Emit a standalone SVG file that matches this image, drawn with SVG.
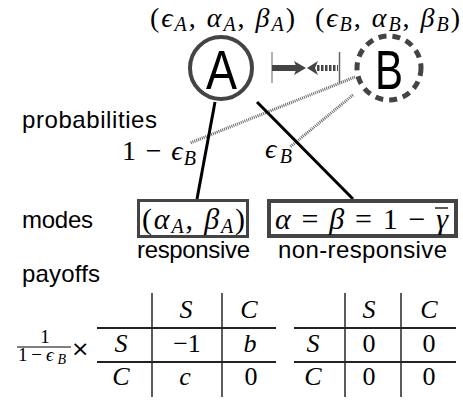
<svg xmlns="http://www.w3.org/2000/svg" width="463" height="401" viewBox="0 0 463 401">
<style>
.sf{font-family:"Liberation Sans","DejaVu Sans",sans-serif;font-size:24px;fill:#000}
.big{font-family:"Liberation Sans","DejaVu Sans",sans-serif;font-size:56px;fill:#000}
.m{font-family:"Liberation Serif","DejaVu Serif",serif;font-size:28px;fill:#000}
.mb{font-family:"Liberation Serif","DejaVu Serif",serif;font-size:30px;fill:#000}
.i{font-style:italic}
.s{font-size:20px;font-style:italic}
.tl{stroke:#333;stroke-width:1.6}
.th{stroke:#222;stroke-width:1.8}
.tm{font-family:"Liberation Serif","DejaVu Serif",serif;font-size:26px;fill:#000;text-anchor:middle}
.fr{font-family:"Liberation Serif","DejaVu Serif",serif;font-size:19px;fill:#000}
.x{font-family:"DejaVu Sans","Liberation Sans",sans-serif;font-size:22px;fill:#000}
</style>
<rect width="463" height="401" fill="#fff"/>

<!-- top parameter labels -->
<text class="m" x="150" y="27" textLength="145">(<tspan class="i">ϵ</tspan><tspan class="s" dy="4">A</tspan><tspan dy="-4">,</tspan> <tspan class="i">α</tspan><tspan class="s" dy="4">A</tspan><tspan dy="-4">,</tspan> <tspan class="i">β</tspan><tspan class="s" dy="4">A</tspan><tspan dy="-4">)</tspan></text>
<text class="m" x="315" y="27" textLength="145">(<tspan class="i">ϵ</tspan><tspan class="s" dy="4">B</tspan><tspan dy="-4">,</tspan> <tspan class="i">α</tspan><tspan class="s" dy="4">B</tspan><tspan dy="-4">,</tspan> <tspan class="i">β</tspan><tspan class="s" dy="4">B</tspan><tspan dy="-4">)</tspan></text>

<!-- connectors -->
<g id="connectors">
  <line x1="355" y1="77" x2="190" y2="143" stroke="#666" stroke-width="3" stroke-dasharray="1 1"/>
  <line x1="353" y1="95" x2="290" y2="147" stroke="#666" stroke-width="3" stroke-dasharray="1 1"/>
  <line x1="215" y1="102" x2="197" y2="199" stroke="#000" stroke-width="3"/>
  <line x1="257" y1="102" x2="353" y2="199" stroke="#000" stroke-width="3"/>
  <!-- interaction arrows -->
  <line x1="272" y1="52" x2="272" y2="83" stroke="#999" stroke-width="1.5"/>
  <rect x="272" y="65" width="25" height="6" fill="#444"/>
  <polygon points="294,61 306,68 294,75 297,68" fill="#444"/>
  <line x1="339.5" y1="52" x2="339.5" y2="83" stroke="#666" stroke-width="1.5"/>
  <line x1="317" y1="68" x2="338" y2="68" stroke="#444" stroke-width="6" stroke-dasharray="2.5 1.5"/>
  <polygon points="307,68 318,61 315,68 318,75" fill="#444"/>
</g>

<g id="nodeA">
  <circle cx="221" cy="68" r="31" fill="none" stroke="#444" stroke-width="4"/>
  <text class="big" x="206" y="89" textLength="31" lengthAdjust="spacingAndGlyphs">A</text>
</g>
<g id="nodeB">
  <circle cx="389" cy="68" r="32" fill="none" stroke="#444" stroke-width="5" stroke-dasharray="8 6"/>
  <text class="big" x="375" y="89" textLength="28" lengthAdjust="spacingAndGlyphs">B</text>
</g>

<!-- row labels -->
<text class="sf" x="22" y="128" textLength="135">probabilities</text>
<text class="sf" x="22" y="228" textLength="71">modes</text>
<text class="sf" x="22" y="282" textLength="78">payoffs</text>

<!-- probability labels -->
<text class="m" x="122" y="160" textLength="74">1 − <tspan class="i">ϵ</tspan><tspan class="s" dy="5">B</tspan></text>
<text class="m" x="265" y="158" textLength="27"><tspan class="i">ϵ</tspan><tspan class="s" dy="5">B</tspan></text>

<g id="modeResponsive">
  <rect x="138.5" y="200.5" width="109" height="36" fill="#fff" stroke="#444" stroke-width="3"/>
  <text class="mb" x="142" y="229" textLength="103">(<tspan class="i">α</tspan><tspan class="s" dy="4">A</tspan><tspan dy="-4">,</tspan> <tspan class="i">β</tspan><tspan class="s" dy="4">A</tspan><tspan dy="-4">)</tspan></text>
  <text class="sf" x="137" y="258" textLength="113">responsive</text>
</g>
<g id="modeNonResponsive">
  <rect x="269" y="201" width="187" height="35" fill="#fff" stroke="#444" stroke-width="4"/>
  <text class="mb" x="275" y="229" textLength="173"><tspan class="i">α</tspan> = <tspan class="i">β</tspan> = 1 − <tspan class="i">γ</tspan></text>
  <line x1="435" y1="208" x2="448" y2="208" stroke="#000" stroke-width="1.3"/>
  <text class="sf" x="278" y="258" textLength="169">non-responsive</text>
</g>

<!-- payoff table 1 -->
<g id="table1">
  <text class="fr" x="45" y="343" text-anchor="middle">1</text>
  <line x1="17" y1="347" x2="71" y2="347" stroke="#000" stroke-width="1"/>
  <text class="fr" x="18" y="361" textLength="48">1−<tspan class="i">ϵ</tspan><tspan class="i" style="font-size:14px" dy="3">B</tspan></text>
  <text class="x" x="71" y="356">×</text>
  <line class="tl" x1="152" y1="293" x2="152" y2="397"/>
  <line class="tl" x1="222" y1="293" x2="222" y2="397"/>
  <line class="th" x1="97" y1="328" x2="276" y2="328"/>
  <line class="th" x1="97" y1="362" x2="276" y2="362"/>
  <text class="tm i" x="186" y="318">S</text>
  <text class="tm i" x="249" y="318">C</text>
  <text class="tm i" x="121" y="352">S</text>
  <text class="tm" x="187" y="352">−1</text>
  <text class="tm i" x="250" y="352">b</text>
  <text class="tm i" x="121" y="385">C</text>
  <text class="tm i" x="185" y="385">c</text>
  <text class="tm" x="251" y="385">0</text>
</g>

<!-- payoff table 2 -->
<g id="table2">
  <line class="tl" x1="345" y1="293" x2="345" y2="397"/>
  <line class="tl" x1="401" y1="293" x2="401" y2="397"/>
  <line class="th" x1="294" y1="328" x2="456" y2="328"/>
  <line class="th" x1="294" y1="362" x2="456" y2="362"/>
  <text class="tm i" x="369" y="318">S</text>
  <text class="tm i" x="429" y="318">C</text>
  <text class="tm i" x="313" y="352">S</text>
  <text class="tm" x="369" y="352">0</text>
  <text class="tm" x="429" y="352">0</text>
  <text class="tm i" x="313" y="385">C</text>
  <text class="tm" x="369" y="385">0</text>
  <text class="tm" x="429" y="385">0</text>
</g>
</svg>
